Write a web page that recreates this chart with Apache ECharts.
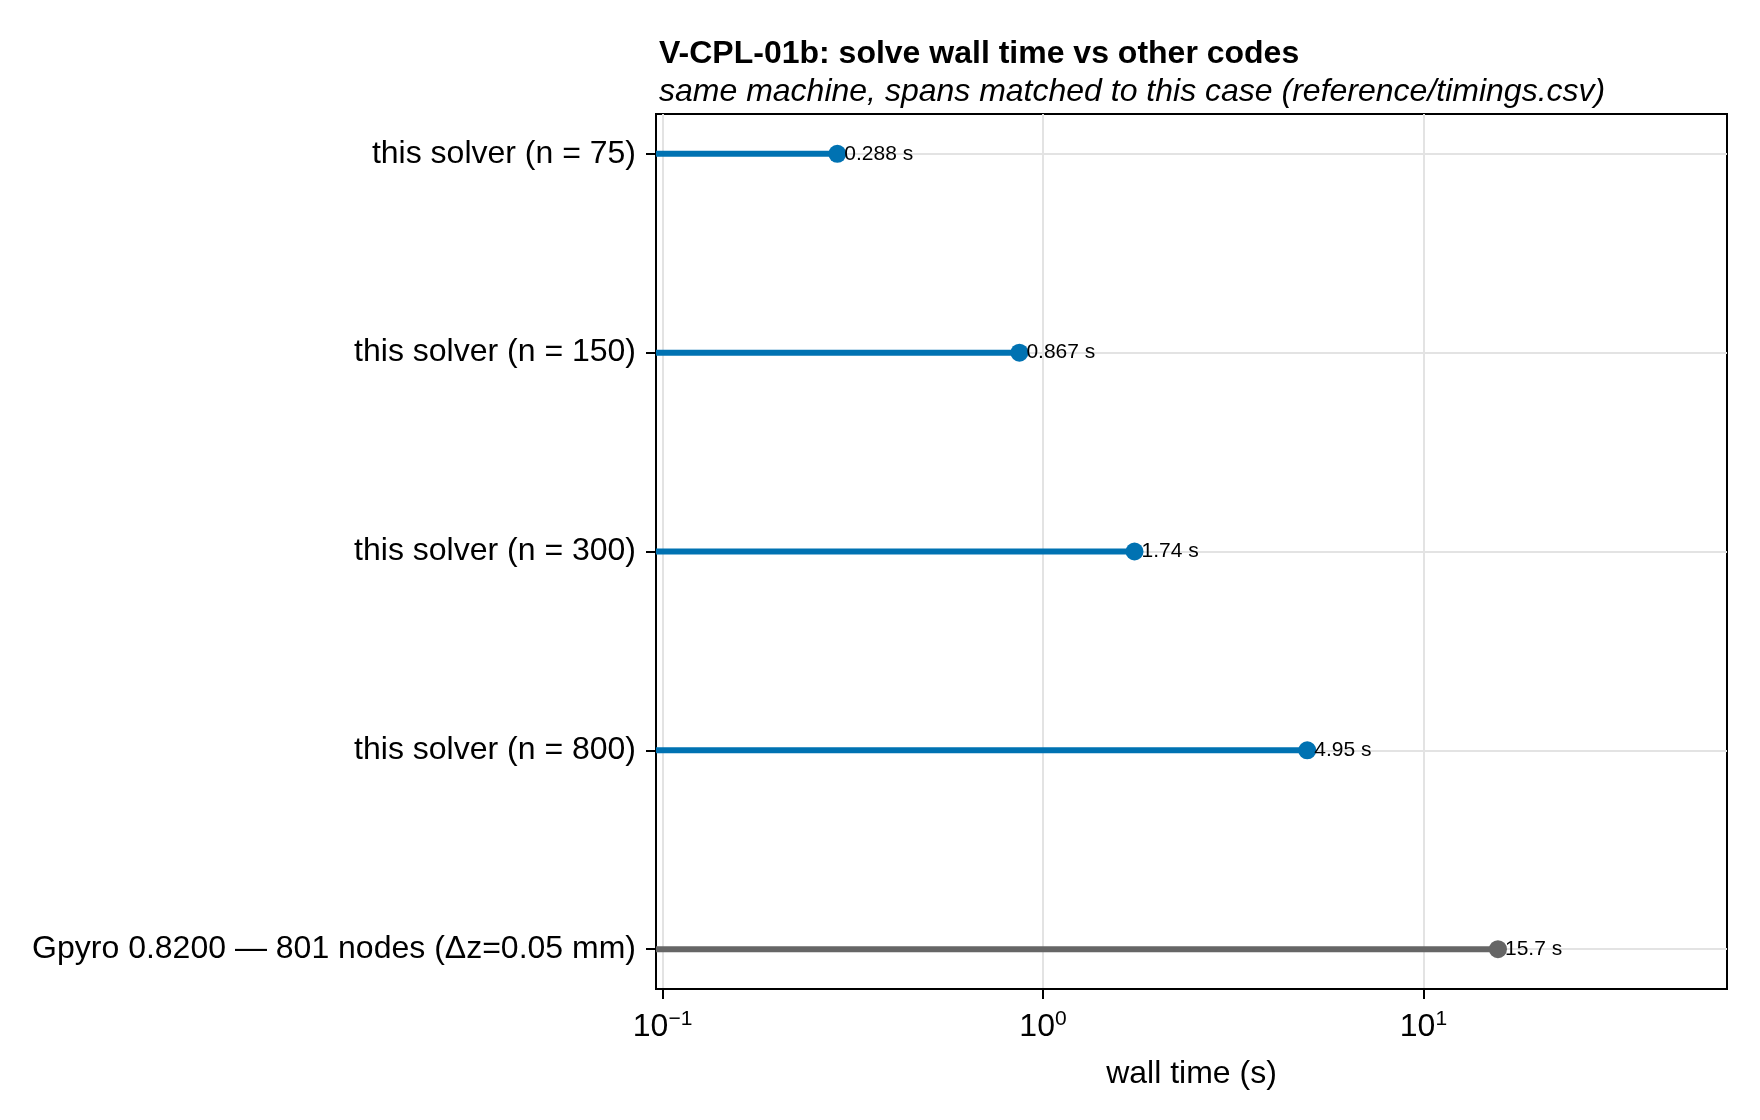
<!DOCTYPE html>
<html>
<head>
<meta charset="utf-8">
<script src="https://cdn.jsdelivr.net/npm/echarts@6/dist/echarts.min.js"></script>
<style>
  html, body { margin: 0; padding: 0; background: #fff; }
  #chart { width: 1760px; height: 1120px; }
</style>
</head>
<body>
<div id="chart"></div>
<script>
// rows, top to bottom
var rowNames = [
  'this solver (n = 75)',
  'this solver (n = 150)',
  'this solver (n = 300)',
  'this solver (n = 800)',
  'Gpyro 0.8200 — 801 nodes (Δz=0.05 mm)'
];
var wallTimes = [0.288, 0.867, 1.74, 4.95, 15.7];
var rowKind = ['ours', 'ours', 'ours', 'ours', 'other'];
var xTicks = [0.1, 1, 10];

var xMin = 0.0961, xMax = 62.8;
var FONT = 'Liberation Sans';
var kindColor = { ours: '#0072b2', other: '#666666' };

var myChart = echarts.init(document.getElementById('chart'));

var series = [];
// the stems, from the left edge to the value
wallTimes.forEach(function (v, i) {
  series.push({
    type: 'line',
    data: [[xMin, i], [v, i]],
    symbol: 'none',
    lineStyle: { width: 6, color: kindColor[rowKind[i]] },
    z: 2
  });
});
// the dots with value labels
series.push({
  type: 'scatter',
  symbolSize: 18,
  z: 3,
  data: wallTimes.map(function (v, i) {
    return { value: [v, i], itemStyle: { color: kindColor[rowKind[i]], opacity: 1 } };
  }),
  label: {
    show: true,
    position: 'right',
    distance: -2,
    color: '#000',
    fontFamily: FONT,
    fontSize: 21,
    formatter: function (p) { return p.value[0] + ' s'; }
  }
});

var rowIdx = rowNames.map(function (n, i) { return i; });

var option = {
  animation: false,
  backgroundColor: '#fff',
  title: [
    {
      text: 'V-CPL-01b: solve wall time vs other codes',
      left: 654, top: 33,
      textStyle: { fontFamily: FONT, fontSize: 32, fontWeight: 'bold', color: '#000' }
    },
    {
      text: 'same machine, spans matched to this case (reference/timings.csv)',
      left: 654, top: 71,
      textStyle: { fontFamily: FONT, fontSize: 32, fontStyle: 'italic', fontWeight: 'normal', color: '#000' }
    }
  ],
  grid: {
    left: 656, top: 114, width: 1071, height: 875,
    show: true, borderColor: '#000', borderWidth: 2, backgroundColor: 'transparent'
  },
  xAxis: {
    type: 'log',
    logBase: 10,
    min: xMin,
    max: xMax,
    name: 'wall time (s)',
    nameLocation: 'middle',
    nameGap: 69,
    nameTextStyle: { fontFamily: FONT, fontSize: 32, color: '#000' },
    axisLine: { show: true, onZero: false, lineStyle: { color: '#000', width: 2 } },
    axisTick: { show: true, customValues: xTicks, length: 10, lineStyle: { color: '#000', width: 2 } },
    minorTick: { show: false },
    splitLine: { show: true, lineStyle: { color: '#e3e3e3', width: 2 } },
    axisLabel: {
      customValues: xTicks,
      margin: 20,
      formatter: function (v) {
        var e = Math.round(Math.log10(v));
        var s = e < 0 ? '−' + (-e) : String(e);
        return '{b|10}{s|' + s + '}';
      },
      rich: {
        b: { fontFamily: FONT, fontSize: 32, color: '#000' },
        s: { fontFamily: FONT, fontSize: 21, color: '#000', padding: [0, 0, 15, 0] }
      }
    }
  },
  yAxis: {
    type: 'value',
    inverse: true,
    min: -0.2,
    max: 4.2,
    axisLine: { show: true, onZero: false, lineStyle: { color: '#000', width: 2 } },
    axisTick: { show: true, customValues: rowIdx, length: 10, lineStyle: { color: '#000', width: 2 } },
    splitLine: { show: true, lineStyle: { color: '#e3e3e3', width: 2 } },
    axisLabel: {
      customValues: rowIdx,
      margin: 20,
      fontFamily: FONT,
      fontSize: 32,
      color: '#000',
      formatter: function (v) { return rowNames[Math.round(v)]; }
    }
  },
  series: series
};

myChart.setOption(option);
</script>
</body>
</html>
